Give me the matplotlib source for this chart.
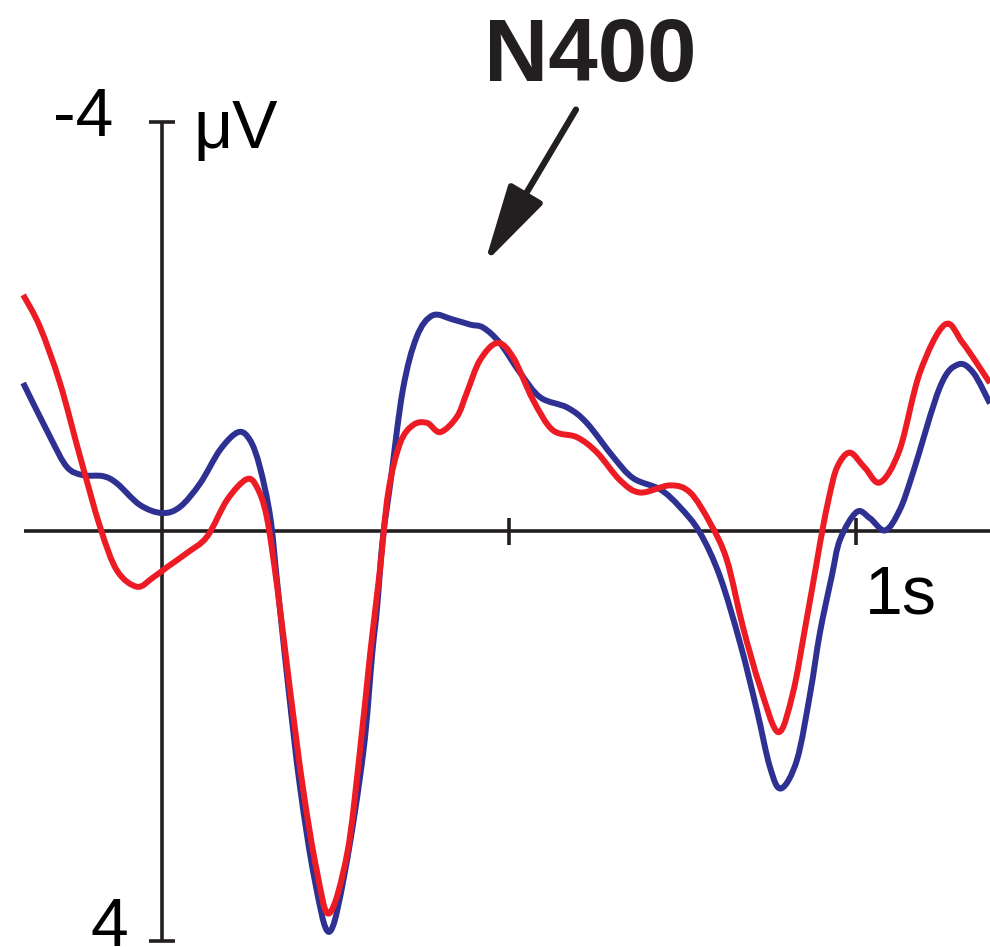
import matplotlib
matplotlib.use("Agg")
import matplotlib.pyplot as plt
from matplotlib.path import Path
from matplotlib.patches import PathPatch

# ---- data (time in ms, amplitude in microvolts; negative plotted up) ----
blue_t = [-200, -161, -137, -114, -85, -65, -32, 0, 26, 55, 84, 110, 127, 141, 156,
          166, 182, 199, 220, 241, 264, 290, 303, 310, 318, 329, 347, 367, 390, 419,
          444, 463, 487, 516, 545, 584, 612, 650, 679, 718, 746, 775, 804, 833, 857,
          876, 892, 915, 934, 948, 965, 977, 1001, 1020, 1042, 1063, 1082, 1121, 1147,
          1169, 1193]
blue_v = [-1.45, -0.92, -0.63, -0.55, -0.54, -0.47, -0.26, -0.18, -0.24, -0.47, -0.80,
          -0.97, -0.89, -0.63, -0.14, 0.50, 1.52, 2.50, 3.40, 3.91, 3.31, 2.16, 1.19,
          0.74, 0.08, -0.47, -1.38, -1.90, -2.11, -2.07, -2.02, -1.99, -1.84, -1.55,
          -1.31, -1.21, -1.06, -0.73, -0.52, -0.41, -0.24, 0.01, 0.44, 1.09, 1.74,
          2.30, 2.51, 2.23, 1.58, 0.99, 0.44, 0.08, -0.19, -0.13, -0.01, -0.21, -0.57,
          -1.41, -1.63, -1.55, -1.25]

red_t = [-200, -176, -147, -118, -89, -65, -36, -13, 7, 36, 65, 94, 122, 137, 151,
         166, 184, 203, 223, 241, 267, 285, 300, 314, 326, 343, 362, 382, 401, 425,
         439, 458, 483, 506, 535, 563, 598, 627, 660, 689, 732, 761, 790, 814, 837,
         862, 888, 909, 927, 944, 951, 962, 973, 991, 1013, 1035, 1063, 1092, 1128,
         1154, 1193]
red_v = [-2.31, -2.00, -1.45, -0.73, -0.04, 0.38, 0.54, 0.45, 0.35, 0.21, 0.05, -0.31,
         -0.51, -0.43, -0.14, 0.54, 1.52, 2.50, 3.31, 3.73, 3.14, 2.16, 1.19, 0.38,
         -0.38, -0.86, -1.04, -1.06, -0.97, -1.12, -1.35, -1.67, -1.84, -1.70, -1.28,
         -0.99, -0.92, -0.77, -0.50, -0.38, -0.45, -0.38, -0.08, 0.28, 0.93, 1.52,
         1.96, 1.58, 0.93, 0.28, 0.01, -0.36, -0.63, -0.77, -0.62, -0.48, -0.80,
         -1.55, -2.02, -1.84, -1.45]

y_tick_labels = ["-4", "4"]
y_tick_values = [-4, 4]
x_tick_values = [500, 1000]
x_label = "1s"
y_unit = "\u03bcV"
annotation = "N400"

BLUE = "#2e3192"
RED = "#ed1c24"
INK = "#231f20"


def smooth_path(xs, ys):
    """Cubic Bezier path passing through every data point (Catmull-Rom tangents)."""
    pts = list(zip(xs, ys))
    n = len(pts)
    verts = [pts[0]]
    codes = [Path.MOVETO]
    for i in range(n - 1):
        p0 = pts[i - 1] if i > 0 else pts[i]
        p1 = pts[i]
        p2 = pts[i + 1]
        p3 = pts[i + 2] if i + 2 < n else pts[i + 1]
        c1 = (p1[0] + (p2[0] - p0[0]) / 6.0, p1[1] + (p2[1] - p0[1]) / 6.0)
        c2 = (p2[0] - (p3[0] - p1[0]) / 6.0, p2[1] - (p3[1] - p1[1]) / 6.0)
        verts += [c1, c2, p2]
        codes += [Path.CURVE4, Path.CURVE4, Path.CURVE4]
    return Path(verts, codes)


fig = plt.figure(figsize=(9.90, 9.47), dpi=100)
ax = fig.add_axes([0, 0, 1, 1])
ax.set_xlim(-233.4, 1193.1)
ax.set_ylim(4.058, -5.19)
ax.axis("off")

# axes
ax.plot([-199, 1193.1], [0, 0], color=INK, lw=2.6, solid_capstyle="butt", zorder=1)
ax.plot([0, 0], [y_tick_values[0], y_tick_values[1]], color=INK, lw=2.6,
        solid_capstyle="butt", zorder=1)
for v in y_tick_values:
    ax.plot([-18.7, 18.7], [v, v], color=INK, lw=2.6, solid_capstyle="butt", zorder=1)
for t in x_tick_values:
    ax.plot([t, t], [-0.13, 0.13], color=INK, lw=2.6, solid_capstyle="butt", zorder=1)

# curves
ax.add_patch(PathPatch(smooth_path(blue_t, blue_v), fill=False, edgecolor=BLUE,
                       lw=4.3, capstyle="butt", joinstyle="round", zorder=2))
ax.add_patch(PathPatch(smooth_path(red_t, red_v), fill=False, edgecolor=RED,
                       lw=4.3, capstyle="butt", joinstyle="round", zorder=3))

font = "Liberation Sans"
ax.text(-70, -4.04, y_tick_labels[0], ha="right", va="center", fontsize=49,
        family=font, color="black")
ax.text(-49, 4.05, y_tick_labels[1], ha="right", va="baseline", fontsize=49,
        family=font, color="black")
ax.text(45, -3.74, y_unit, ha="left", va="baseline", fontsize=49,
        family=font, color="black")
ax.text(1013, 0.80, x_label, ha="left", va="baseline", fontsize=49,
        family=font, color="black")
ax.text(617, -4.40, annotation, ha="center", va="baseline", fontsize=64,
        family=font, fontweight="bold", color=INK)

ax.annotate("", xy=(465, -2.62), xytext=(596.5, -4.12),
            arrowprops=dict(arrowstyle="-|>,head_length=4.8,head_width=1.2",
                            mutation_scale=10, lw=4.5, color=INK,
                            shrinkA=0, shrinkB=0))

fig.savefig("out.png", dpi=100)
